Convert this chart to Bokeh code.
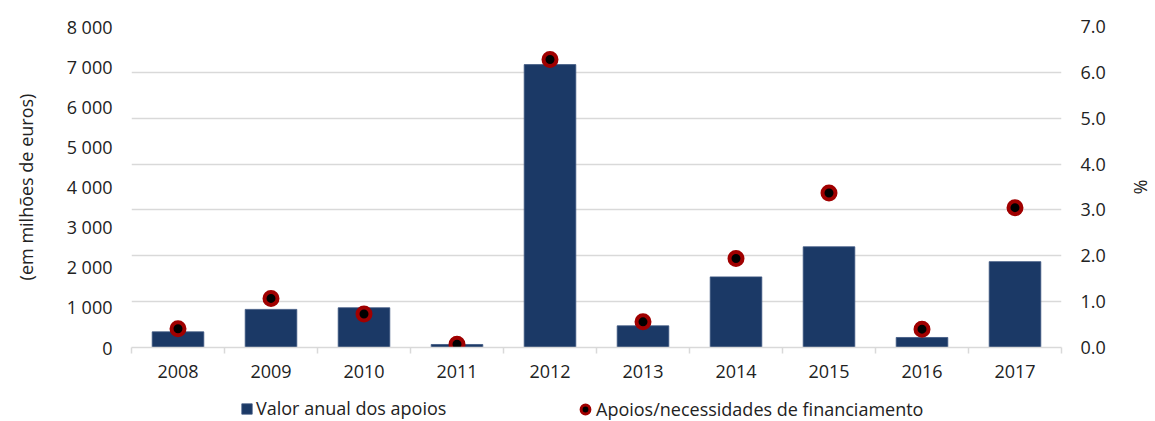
from bokeh.plotting import figure
from bokeh.layouts import column
from bokeh.models import (Range1d, LinearAxis, FixedTicker, Legend, LegendItem,
                          ColumnDataSource, NumeralTickFormatter)
from bokeh.embed import file_html
from bokeh.resources import INLINE

years = ["2008", "2009", "2010", "2011", "2012", "2013", "2014", "2015", "2016", "2017"]
valor_apoios = [390, 950, 990, 75, 7050, 540, 1760, 2510, 250, 2140]      # milhões de euros
apoios_necessidades = [0.41, 1.07, 0.73, 0.07, 6.28, 0.56, 1.94, 3.37, 0.40, 3.05]  # %
left_ticks = [0, 1000, 2000, 3000, 4000, 5000, 6000, 7000, 8000]
right_ticks = [0, 1, 2, 3, 4, 5, 6, 7]
series_names = ["Valor anual dos apoios", "Apoios/necessidades de financiamento"]

FONT = "Open Sans"
FS = "18px"
TXT = "#222222"
GRID = "#d9d9d9"
NAVY = "#1b3966"
RED = "#a00000"

xpos = [i + 0.5 for i in range(len(years))]
src = ColumnDataSource(dict(x=xpos, v=valor_apoios, r=apoios_necessidades))

p = figure(width=1155, height=387, output_backend="svg", toolbar_location=None,
           x_range=Range1d(0, len(years)), y_range=Range1d(0, 7),
           y_axis_location="right",
           min_border_left=131, min_border_right=92, min_border_top=26, min_border_bottom=40)
p.outline_line_color = None
p.extra_y_ranges = {"eur": Range1d(0, 8000)}

# x axis
xa = p.xaxis[0]
xa.ticker = FixedTicker(ticks=xpos, minor_ticks=list(range(len(years) + 1)))
xa.major_label_overrides = {x: y for x, y in zip(xpos, years)}
xa.major_tick_line_color = None
xa.major_tick_out = 0
xa.major_tick_in = 0
xa.minor_tick_out = 6
xa.minor_tick_in = 0
xa.minor_tick_line_color = GRID
xa.minor_tick_line_width = 1.5
xa.axis_line_color = GRID
xa.axis_line_width = 1.5
xa.major_label_standoff = 11
xa.major_label_text_font = FONT
xa.major_label_text_font_size = FS
xa.major_label_text_color = TXT
p.xgrid.grid_line_color = None

# right axis (%)
ra = p.yaxis[0]
ra.ticker = FixedTicker(ticks=right_ticks)
ra.formatter = NumeralTickFormatter(format="0.0")
ra.axis_line_color = None
ra.major_tick_line_color = None
ra.minor_tick_line_color = None
ra.major_tick_out = 0
ra.major_label_standoff = 19
ra.major_label_text_font = FONT
ra.major_label_text_font_size = FS
ra.major_label_text_color = TXT
ra.axis_label = "%"
ra.axis_label_text_font = FONT
ra.axis_label_text_font_size = FS
ra.axis_label_text_font_style = "normal"
ra.axis_label_text_color = TXT
ra.axis_label_standoff = 20

p.ygrid.grid_line_color = GRID
p.ygrid.grid_line_width = 1.5

# left axis (euros)
la = LinearAxis(y_range_name="eur")
la.ticker = FixedTicker(ticks=left_ticks)
la.major_label_overrides = {t: f"{t:,}".replace(",", " ") for t in left_ticks}
la.axis_line_color = None
la.major_tick_line_color = None
la.minor_tick_line_color = None
la.major_tick_out = 0
la.major_label_standoff = 19
la.major_label_text_font = FONT
la.major_label_text_font_size = FS
la.major_label_text_color = TXT
la.axis_label = "(em milhões de euros)"
la.axis_label_text_font = FONT
la.axis_label_text_font_size = FS
la.axis_label_text_font_style = "normal"
la.axis_label_text_color = TXT
la.axis_label_standoff = 26
p.add_layout(la, "left")

bar_style = dict(fill_color=NAVY, line_color="#3c5680", line_width=0.8)
pt_style = dict(size=13, fill_color="black", line_color=RED, line_width=4)

p.vbar(x="x", top="v", width=0.555, source=src, y_range_name="eur", **bar_style)
p.scatter(x="x", y="r", source=src, **pt_style)

# legend strip below the chart (legend renderers sit outside the visible range)
lg = figure(width=1155, height=34, output_backend="svg", toolbar_location=None,
            x_range=Range1d(0, 1), y_range=Range1d(0, 1),
            x_axis_location=None, y_axis_location=None,
            min_border_left=131, min_border_right=92, min_border_top=0, min_border_bottom=0)
lg.outline_line_color = None
lg.xgrid.grid_line_color = None
lg.ygrid.grid_line_color = None
lb = lg.vbar(x=[-5], top=[-5], bottom=[-6], width=0.5, **bar_style)
ls = lg.scatter(x=[-5], y=[-5], size=13, fill_color="black", line_color=RED, line_width=3)

common = dict(orientation="horizontal", spacing=0, padding=0, margin=0,
              border_line_color=None, background_fill_alpha=0,
              label_text_font=FONT, label_text_font_size=FS, label_text_color=TXT)
legend1 = Legend(items=[LegendItem(label=series_names[0], renderers=[lb])],
                 location=(109, 1), glyph_width=13, glyph_height=13,
                 label_standoff=3, label_height=20, **common)
legend2 = Legend(items=[LegendItem(label=series_names[1], renderers=[ls])],
                 location=(443, 0), glyph_width=22, glyph_height=22,
                 label_standoff=0, label_height=22, **common)
lg.add_layout(legend1, "center")
lg.add_layout(legend2, "center")

layout = column(p, lg, spacing=0)
open("out.html", "w").write(file_html(layout, INLINE))
